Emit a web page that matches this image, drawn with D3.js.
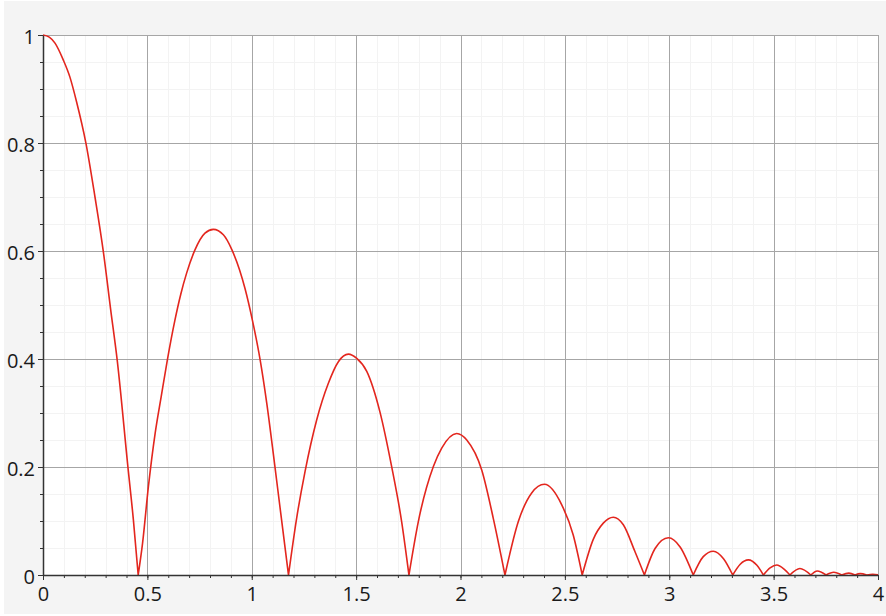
<!DOCTYPE html>
<html>
<head>
<meta charset="utf-8">
<script src="https://cdn.jsdelivr.net/npm/d3@7"></script>
<style>
  html, body { margin: 0; padding: 0; background: #ffffff; }
  svg { display: block; }
  .tick text { font-family: "Open Sans", sans-serif; font-size: 20px; fill: #1a1a1a; }
</style>
</head>
<body>
<svg id="chart" width="886" height="616"></svg>
<script>
// ---- data ----
const xValues = [
  0, 0.03, 0.0575, 0.097, 0.129, 0.161, 0.206, 0.249, 0.289, 0.324, 0.356, 0.406, 0.433, 0.456,
  0.477, 0.505, 0.537, 0.566, 0.596, 0.632, 0.660, 0.688, 0.728, 0.776, 0.816, 0.864, 0.904, 0.968, 1.003, 1.040, 1.072, 1.108, 1.139, 1.176,
  1.215, 1.255, 1.311, 1.367, 1.415, 1.463, 1.503, 1.551, 1.614, 1.670, 1.718, 1.753,
  1.798, 1.870, 1.910, 1.982, 2.030, 2.102, 2.157, 2.213,
  2.277, 2.341, 2.402, 2.485, 2.540, 2.583,
  2.636, 2.684, 2.732, 2.780, 2.836, 2.881,
  2.932, 2.996, 3.052, 3.115,
  3.163, 3.211, 3.260, 3.304,
  3.340, 3.379, 3.420, 3.451,
  3.483, 3.515, 3.550, 3.578,
  3.626, 3.678,
  3.709, 3.751,
  3.788, 3.826,
  3.860, 3.890,
  3.915, 3.946,
  3.975, 4.0
];
const yValues = [
  1, 0.996, 0.985, 0.954, 0.922, 0.876, 0.799, 0.700, 0.599, 0.492, 0.396, 0.203, 0.102, 0,
  0.059, 0.164, 0.262, 0.330, 0.399, 0.472, 0.520, 0.559, 0.602, 0.633, 0.640, 0.630, 0.603, 0.530, 0.472, 0.399, 0.318, 0.210, 0.114, 0,
  0.105, 0.191, 0.287, 0.355, 0.395, 0.409, 0.401, 0.377, 0.302, 0.201, 0.099, 0,
  0.099, 0.201, 0.235, 0.262, 0.250, 0.194, 0.105, 0,
  0.099, 0.152, 0.168, 0.130, 0.074, 0,
  0.066, 0.096, 0.107, 0.093, 0.043, 0,
  0.049, 0.069, 0.052, 0,
  0.034, 0.044, 0.030, 0,
  0.020, 0.028, 0.018, 0,
  0.013, 0.0185, 0.011, 0,
  0.012, 0,
  0.0075, 0,
  0.005, 0,
  0.0035, 0,
  0.0025, 0,
  0.0015, 0.0004
];
const xTicks = [0, 0.5, 1, 1.5, 2, 2.5, 3, 3.5, 4];
const yTicks = [0, 0.2, 0.4, 0.6, 0.8, 1];
const xMinorTicks = d3.range(0, 41).map(i => i / 10);
const yMinorTicks = d3.range(0, 21).map(i => i / 20);

// ---- layout ----
const W = 886, H = 616;
const margin = { left: 43, right: 8, top: 35, bottom: 41 };
const svg = d3.select("#chart");

svg.append("rect").attr("x", 4).attr("y", 1).attr("width", W - 4).attr("height", 613).attr("fill", "#f4f4f4");

const x = d3.scaleLinear().domain([0, 4]).range([margin.left, W - margin.right]);
const y = d3.scaleLinear().domain([0, 1]).range([H - margin.bottom, margin.top]);

svg.append("rect")
  .attr("x", x(0)).attr("y", y(1))
  .attr("width", x(4) - x(0)).attr("height", y(0) - y(1))
  .attr("fill", "#ffffff");

// minor grid
const g = svg.append("g");
g.selectAll("line.mx").data(xMinorTicks).join("line")
  .attr("x1", d => Math.round(x(d)) + 0.5).attr("x2", d => Math.round(x(d)) + 0.5)
  .attr("y1", y(0)).attr("y2", y(1))
  .attr("stroke", "#f3f3f3").attr("stroke-width", 1);
g.selectAll("line.my").data(yMinorTicks).join("line")
  .attr("y1", d => Math.round(y(d)) + 0.5).attr("y2", d => Math.round(y(d)) + 0.5)
  .attr("x1", x(0)).attr("x2", x(4))
  .attr("stroke", "#f3f3f3").attr("stroke-width", 1);
// major grid
g.selectAll("line.gx").data(xTicks).join("line")
  .attr("x1", d => Math.round(x(d)) + 0.5).attr("x2", d => Math.round(x(d)) + 0.5)
  .attr("y1", y(0)).attr("y2", y(1))
  .attr("stroke", "#a6a6a6").attr("stroke-width", 1);
g.selectAll("line.gy").data(yTicks).join("line")
  .attr("y1", d => Math.round(y(d)) + 0.5).attr("y2", d => Math.round(y(d)) + 0.5)
  .attr("x1", x(0)).attr("x2", x(4))
  .attr("stroke", "#a6a6a6").attr("stroke-width", 1);

// curve: split into lobes at zeros so cusps stay sharp
const pts = xValues.map((v, i) => [v, yValues[i]]);
const lobes = [];
let cur = [pts[0]];
for (let i = 1; i < pts.length; i++) {
  cur.push(pts[i]);
  if (pts[i][1] === 0 && i < pts.length - 1) { lobes.push(cur); cur = [pts[i]]; }
}
lobes.push(cur);
const line = d3.line().x(d => x(d[0])).y(d => y(d[1])).curve(d3.curveMonotoneX);
svg.append("path")
  .attr("d", lobes.map(l => line(l)).join(""))
  .attr("fill", "none")
  .attr("stroke", "#e3261e")
  .attr("stroke-width", 1.6)
  .attr("stroke-linejoin", "round");

// minor ticks
const minorX = d3.axisBottom(x).tickValues(xMinorTicks).tickSize(3).tickFormat("");
const minorY = d3.axisLeft(y).tickValues(yMinorTicks).tickSize(3).tickFormat("");
svg.append("g").attr("transform", `translate(0,${y(0)})`).call(minorX)
  .call(s => s.select(".domain").remove())
  .call(s => s.selectAll("line").attr("stroke", "#333"));
svg.append("g").attr("transform", `translate(${x(0)},0)`).call(minorY)
  .call(s => s.select(".domain").remove())
  .call(s => s.selectAll("line").attr("stroke", "#333"));

// major axes
const xAxis = d3.axisBottom(x).tickValues(xTicks).tickSize(5).tickSizeOuter(0).tickPadding(7).tickFormat(d3.format("~g"));
const yAxis = d3.axisLeft(y).tickValues(yTicks).tickSize(5).tickSizeOuter(0).tickPadding(3).tickFormat(d3.format("~g"));
svg.append("g").attr("transform", `translate(0,${y(0)})`).call(xAxis)
  .call(s => s.select(".domain").attr("stroke", "#333").attr("stroke-width", 1.5))
  .call(s => s.selectAll(".tick line").attr("stroke", "#333"))
  .call(s => s.selectAll(".tick text").attr("font-family", null).attr("font-size", null));
svg.append("g").attr("transform", `translate(${x(0)},0)`).call(yAxis)
  .call(s => s.select(".domain").attr("stroke", "#333").attr("stroke-width", 1.5))
  .call(s => s.selectAll(".tick line").attr("stroke", "#333"))
  .call(s => s.selectAll(".tick text").attr("dy", "0.42em").attr("font-family", null).attr("font-size", null));
</script>
</body>
</html>
